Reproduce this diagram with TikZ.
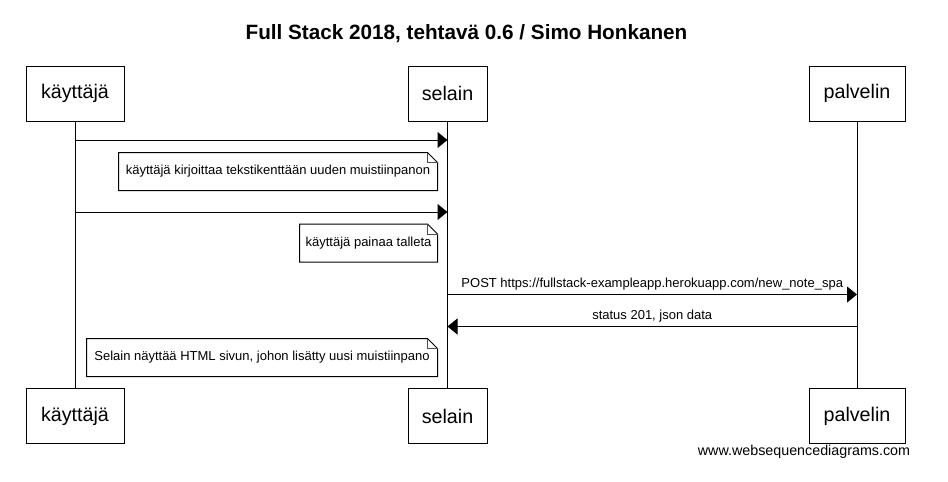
\documentclass[tikz,border=0pt]{standalone}
\usepackage{fontspec}
\setmainfont{Liberation Sans}
\usetikzlibrary{arrows.meta,calc}
\begin{document}
\begin{tikzpicture}[x=1pt,y=-1pt,line width=1pt,
  actor/.style={draw,minimum height=55pt,inner sep=0pt,font=\fontsize{19.7}{22}\selectfont},
  notebox/.style={minimum height=37pt,inner sep=0pt,font=\fontsize{13}{15}\selectfont},
  msg/.style={-{Triangle[length=10pt,width=16pt]}},
  lbl/.style={font=\fontsize{13}{15}\selectfont,inner sep=0pt},
  lifeline/.style={line width=1pt}]
\path[use as bounding box,fill=white] (0,0) rectangle (948,482);

\node[font=\bfseries\fontsize{20.7}{24}\selectfont] (title) at (466.5,34) {Full Stack 2018, tehtavä 0.6 / Simo Honkanen};

% participants
\node[actor,minimum width=98pt] (ut) at (75,93.5) {käyttäjä};
\node[actor,minimum width=79pt] (st) at (447.5,93.5) {selain};
\node[actor,minimum width=96pt] (pt) at (857,93.5) {palvelin};
\node[actor,minimum width=98pt] (ub) at (75,416) {käyttäjä};
\node[actor,minimum width=79pt] (sb) at (447.5,416) {selain};
\node[actor,minimum width=96pt] (pb) at (857,416) {palvelin};

\draw[lifeline] (ut.south) -- (ub.north);
\draw[lifeline] (st.south) -- (sb.north);
\draw[lifeline] (pt.south) -- (pb.north);

% message rows
\coordinate (m1) at (0,140);
\coordinate (m2) at (0,212);
\coordinate (m3) at (0,294.5);
\coordinate (m4) at (0,326.5);

\draw[msg] (ut |- m1) -- (st |- m1);
\draw[msg] (ut |- m2) -- (st |- m2);
\draw[msg] (st |- m3) -- node[lbl,above=4pt] (l3) {POST https://fullstack-exampleapp.herokuapp.com/new\_note\_spa} (pt |- m3);
\draw[msg] (pt |- m4) -- node[lbl,above=4pt] (l4) {status 201, json data} (st |- m4);

% notes
\node[notebox,minimum width=318pt] (n1) at (278,171.5) {käyttäjä kirjoittaa tekstikenttään uuden muistiinpanon};
\node[notebox,minimum width=137pt] (n2) at (368.5,243) {käyttäjä painaa talleta};
\node[notebox,minimum width=350pt] (n3) at (262,357.5) {Selain näyttää HTML sivun, johon lisätty uusi muistiinpano};
\foreach \n in {n1,n2,n3}{
  \draw (\n.north west) -- ($(\n.north east)+(-10,0)$) -- ($(\n.north east)+(0,10)$) -- (\n.south east) -- (\n.south west) -- cycle;
  \draw[line width=0.6pt,draw=black!70] ($(\n.north east)+(-10,0)$) -- ($(\n.north east)+(-10,10)$) -- ($(\n.north east)+(0,10)$);
}

\node[font=\fontsize{14.3}{16}\selectfont,inner sep=0pt] (footer) at (804,452) {www.websequencediagrams.com};
\end{tikzpicture}
\end{document}
